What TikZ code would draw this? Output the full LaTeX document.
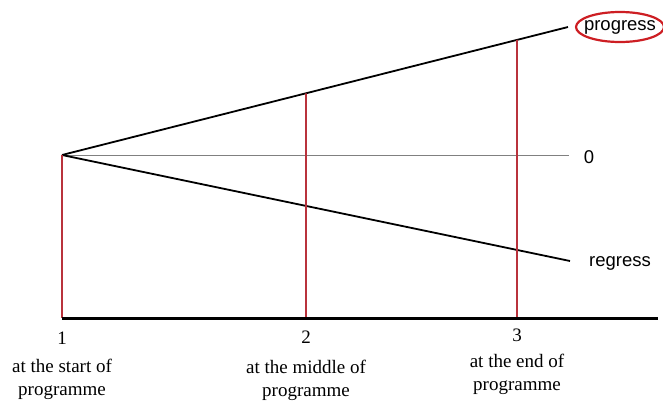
\documentclass[tikz,border=0pt]{standalone}
\usepackage{fontspec}
\setmainfont{Liberation Serif}
\setsansfont{Liberation Sans}
\usetikzlibrary{shapes.geometric, positioning}

\definecolor{stagered}{RGB}{185,50,60}
\definecolor{ringred}{RGB}{205,30,35}

\begin{document}
\begin{tikzpicture}[
    x=1pt, y=-1pt,
    trend/.style ={draw=black, line width=1.8pt},
    zero/.style  ={draw=gray, line width=0.8pt},
    stage/.style ={draw=stagered, line width=1.8pt},
    axis/.style  ={draw=black, line width=3pt},
    tick/.style  ={font=\fontsize{19}{22}\selectfont, inner sep=0pt},
    caption/.style={font=\fontsize{19}{23}\selectfont, align=center, inner sep=0pt},
    side/.style  ={font=\sffamily\fontsize{18.5}{22}\selectfont, inner sep=0pt},
    ring/.style  ={draw=ringred, line width=2.2pt}
]
\useasboundingbox (0,0) rectangle (663,405);

% start point and line ends
\coordinate (o)  at (62,155);
\coordinate (pe) at (568,27);
\coordinate (ze) at (569,155);
\coordinate (re) at (570,261);

% labels on the right
\node [side] (up)   at (620,27)  {progress};
\node [side] (nil)  at (589,157) {0};
\node [side] (down) at (620,263) {regress};
\draw [ring] (up.center) ellipse [x radius=44, y radius=15];

\draw [zero]  (o) -- (ze);
\draw [trend] (o) -- (pe);
\draw [trend] (o) -- (re);

% where the stages cut the progress line
\path (o) -- (pe) coordinate[pos=0.4822] (m2) coordinate[pos=0.8992] (m3);

% base line
\coordinate (b1) at (62,318);
\coordinate (b2) at (306,318);
\coordinate (b3) at (517,318);
\coordinate (bend) at (658,318);

\draw [stage] (o)  -- (b1);
\draw [stage] (m2) -- (b2);
\draw [stage] (m3) -- (b3);
\draw [axis]  (b1) -- (bend);

% stages
\node [tick] (t1) at (62,338)  {1};
\node [tick] (t2) at (306,337) {2};
\node [tick] (t3) at (517,335) {3};

\node [caption] (c1) at (62,379)  {at the start of\\programme};
\node [caption] (c2) at (306,380) {at the middle of\\programme};
\node [caption] (c3) at (517,374) {at the end of\\programme};
\end{tikzpicture}
\end{document}
